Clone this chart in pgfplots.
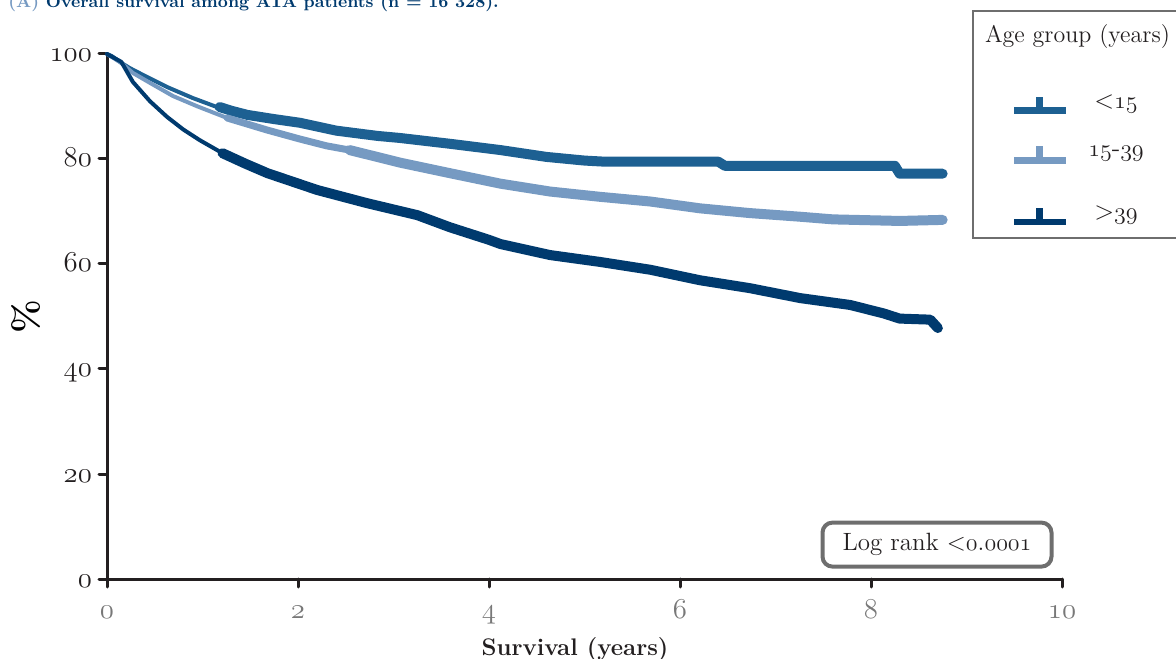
\documentclass[border=0pt]{standalone}
\usepackage{fontspec}
\usepackage{pgfplots}
\pgfplotsset{compat=1.18}
\definecolor{cA}{RGB}{29,96,146}
\definecolor{cB}{RGB}{118,154,194}
\definecolor{cC}{RGB}{0,58,110}
\definecolor{axc}{RGB}{35,31,32}
\definecolor{tickg}{RGB}{120,120,120}
\definecolor{boxg}{RGB}{110,110,110}
\providecommand\legacyoldstylenums[1]{\oldstylenums{#1}}
\newcommand\osf[1]{{\legacyoldstylenums{#1}}}
\begin{document}
\begin{tikzpicture}
\useasboundingbox (-53.5pt,-39.5pt) rectangle (534.5pt,289.5pt);
\begin{axis}[
  at={(0,0)}, anchor=south west,
  scale only axis, width=477.5pt, height=262.5pt,
  xmin=0, xmax=10, ymin=0, ymax=100,
  axis x line*=bottom, axis y line*=left,
  axis line style={line width=1.5pt, color=axc},
  every tick/.style={line width=1.5pt, color=axc},
  tick align=outside, major tick length=4pt,
  xtick={0,2,4,6,8,10},
  xticklabels={\osf{0},\osf{2},\osf{4},\osf{6},\osf{8},\osf{10}},
  ytick={0,20,40,60,80,100},
  yticklabels={\osf{0},\osf{20},\osf{40},\osf{60},\osf{80},\osf{100}},
  xticklabel style={font=\fontsize{13.5}{15}\selectfont, text=tickg, anchor=base, yshift=-15.5pt},
  yticklabel style={font=\fontsize{13.5}{15}\selectfont, text=axc, anchor=base east, yshift=-4pt},
  clip=false,
  line join=round, line cap=round,
]
% <15
\addplot[cA, line width=2pt] table {
0 100
0.05 99.6
0.15 98.3
0.24 97.3
0.4 95.8
0.63 93.7
0.9 91.6
1.18 89.7
};
\addplot[cA, line width=5pt] table {
1.18 89.9
1.3 89.2
1.47 88.4
1.75 87.6
2.02 86.9
2.4 85.4
2.83 84.4
3.07 84.0
3.59 82.9
4.12 81.7
4.6 80.4
5.0 79.7
5.2 79.5
6.4 79.5
6.47 78.7
8.25 78.7
8.3 77.2
8.75 77.2
};
% 15-39
\addplot[cB, line width=2pt] table {
0 100
0.15 98.3
0.27 96.4
0.45 94.5
0.69 92.0
0.95 90.0
1.26 87.8
};
\addplot[cB, line width=3.5pt] table {
1.26 87.8
1.68 85.5
2.02 83.8
2.3 82.5
2.54 81.7
};
\addplot[cB, line width=5pt] table {
2.54 81.7
3.07 79.3
3.59 77.3
4.12 75.3
4.64 73.8
5.16 72.8
5.69 71.9
6.21 70.6
6.73 69.7
7.26 69.0
7.6 68.5
8.3 68.2
8.75 68.4
};
% >39
\addplot[cC, line width=2pt] table {
0 100
0.15 98.5
0.21 96.6
0.27 94.7
0.45 91.0
0.63 88.0
0.8 85.6
0.97 83.6
1.21 81.1
};
\addplot[cC, line width=5pt] table {
1.21 81.1
1.45 79.1
1.68 77.3
2.2 74.1
2.72 71.6
3.25 69.3
3.59 67.0
4.0 64.6
4.12 63.8
4.64 61.7
5.16 60.4
5.69 58.9
6.21 56.9
6.73 55.4
7.26 53.5
7.78 52.2
8.13 50.6
8.3 49.6
8.62 49.4
8.7 47.8
};
\end{axis}
% title (partly cut at top, as in the reference)
\node[anchor=base west, inner sep=0pt, font=\fontsize{8.5}{10}\bfseries\selectfont] at (-49.5pt,285.5pt)
  {\textcolor{cB}{(A)} \textcolor{cC}{Overall survival among ATA patients (n = 16 328).}};
% axis labels
\node[rotate=90, font=\fontsize{18}{20}\bfseries\selectfont, text=black] at (-40.5pt,131pt) {\%};
\node[anchor=base, font=\fontsize{12}{14}\bfseries\selectfont, text=axc] at (234pt,-38pt) {Survival (years)};
% log rank box
\node[draw=boxg, line width=2pt, rounded corners=5pt, minimum width=114.5pt, minimum height=22pt,
  font=\fontsize{12.5}{14}\selectfont, text=axc] at (415pt,17.2pt) {Log rank <\osf{0}.\osf{0001}};
% legend
\draw[boxg, line width=1pt] (536.5pt,284pt) -- (433pt,284pt) -- (433pt,170.5pt) -- (536.5pt,170.5pt);
\node[font=\fontsize{12}{14}\selectfont, text=axc] at (485.25pt,271pt) {Age group (years)};
\foreach \c/\yy/\lab in {cA/234.15/{<\osf{15}}, cB/209.25/{\osf{15}-\osf{39}}, cC/178.5/{>\osf{39}}} {
  \draw[\c, line width=3.3pt] (453.5pt,\yy pt) -- (479.5pt,\yy pt);
  \draw[\c, line width=3.5pt] (466.25pt,\yy pt) -- (466.25pt,\yy pt+7pt);
  \node[font=\fontsize{13}{15}\selectfont, text=axc] at (504.5pt,\yy pt+3.5pt) {\lab};
}
\end{tikzpicture}
\end{document}
